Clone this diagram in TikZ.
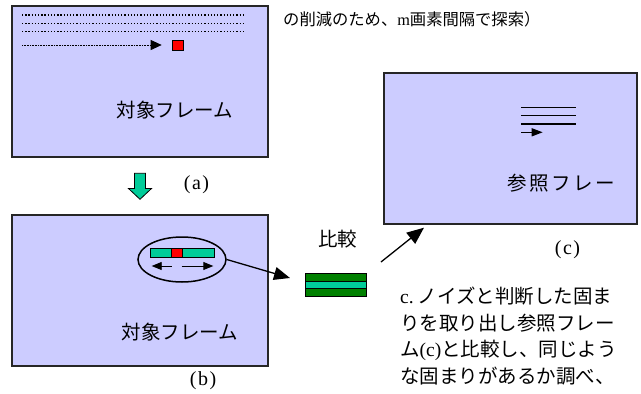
\documentclass[tikz,border=0pt]{standalone}
\usepackage{fontspec}
\setmainfont{Liberation Serif}
\newfontfamily\cjk{Noto Sans CJK JP}
\usetikzlibrary{arrows.meta,shapes.geometric}
\definecolor{lav}{HTML}{CCCCFF}
\definecolor{turq}{HTML}{00CC99}
\definecolor{dgreen}{HTML}{008000}
\definecolor{redsq}{HTML}{FF0000}
\tikzset{
  frame/.style={draw=black!85, line width=1.5pt, fill=lav, inner sep=0pt, outer sep=0pt},
  jp/.style={inner sep=0pt, font=\cjk\fontsize{19.5}{19.5}\selectfont},
  lbl/.style={inner sep=0pt, font=\rmfamily\fontsize{20}{20}\selectfont},
  bigarrow/.style={line width=1.3pt, -{Triangle[length=16pt,width=13pt]}},
  smallarrow/.style={line width=0.9pt, -{Triangle[length=10pt,width=8pt]}},
  cell/.style={draw=black, line width=1pt, inner sep=0pt, outer sep=0pt},
  dotline/.style={line width=1.3pt, dash pattern=on 1.3pt off 1.9pt},
}
\begin{document}
\begin{tikzpicture}[x=1pt,y=-1pt]
\useasboundingbox (0,0) rectangle (641,394);

% frames
\node[frame, minimum width=256pt, minimum height=151pt] (fa) at (140,81.5) {};
\node[frame, minimum width=256pt, minimum height=151pt] (fb) at (140,290.5) {};
\node[frame, line width=1.8pt, minimum width=253pt, minimum height=151pt] (fc) at (510.5,148.5) {};

% top text
\node[anchor=west, inner sep=0pt] (toptext) at (283,19)
  {\fontsize{16.3}{16.3}\selectfont\cjk の削減のため、{\rmfamily m}画素間隔で探索）};

% frame (a) contents
\draw[dotline] (22,15) -- (245,15);
\draw[dotline] (22,23.3) -- (245,23.3);
\draw[dotline] (22,31.7) -- (245,31.7);
\coordinate (sa) at (22,45);
\coordinate (ea) at (161.7,45);
\draw[line width=0.8pt, dash pattern=on 0.8pt off 0.8pt, -{Triangle[length=11pt,width=10pt,sep=0pt]}] (sa) -- (ea);
\node[cell, fill=redsq, minimum width=11pt, minimum height=10pt] (rsa) at (177.5,45) {};
\node[jp] (ta) at (175,110) {対象フレーム};
\node[lbl] (la) at (196.5,185) {(\kern1.5pt a\kern1.5pt)};

% green down arrow
\draw[fill=turq, draw=black, line width=0.8pt] (134.5,173.3) -- (145.5,173.3) -- (145.5,188.5) -- (151.5,188.5)
  -- (140,199.3) -- (128.5,188.5) -- (134.5,188.5) -- cycle;

% frame (b) contents
\node[draw, ellipse, line width=1.5pt, minimum width=88pt, minimum height=45pt, inner sep=0pt] (ell) at (182,259.5) {};
\node[cell, fill=turq, minimum width=64pt, minimum height=8.7pt] (bar) at (182,253.3) {};
\node[cell, fill=redsq, minimum width=11pt, minimum height=8.7pt] (rsb) at (177.2,253.3) {};
\coordinate (l1) at (171.7,266);
\coordinate (l2) at (151.7,266);
\coordinate (r1) at (181.7,266);
\coordinate (r2) at (213.3,266);
\draw[smallarrow] (l1) -- (l2);
\draw[smallarrow] (r1) -- (r2);
\node[jp] (tb) at (180,332) {対象フレーム};
\node[lbl] (lb) at (203,381) {(\kern1.5pt b\kern1.5pt)};

% stack
\node[cell, fill=dgreen, minimum width=61pt, minimum height=7.3pt] (s1) at (336.2,277.6) {};
\node[cell, fill=turq, minimum width=61pt, minimum height=7.4pt] (s2) at (336.2,285) {};
\node[cell, fill=dgreen, minimum width=61pt, minimum height=7.3pt] (s3) at (336.2,292.4) {};
\node[inner sep=0pt, minimum width=61pt, minimum height=22pt] (stk) at (336.2,285) {};
\node[jp] (cmp) at (337.5,239) {比較};

\coordinate (tipA) at (290,278);
\draw[bigarrow] (ell.east) -- (tipA);
\coordinate (sB) at (381,262);
\coordinate (tipB) at (424,227.7);
\draw[line width=1.3pt, -{Triangle[length=17pt,width=14pt]}] (sB) -- (tipB);

% frame (c) contents
\draw[line width=1.3pt] (521,107.3) -- (576,107.3);
\draw[line width=1.3pt] (521,115.7) -- (576,115.7);
\draw[line width=1.3pt] (521,124) -- (576,124);
\coordinate (cs) at (521,132.3);
\coordinate (ce) at (542.7,132.3);
\draw[line width=1.3pt, -{Triangle[length=11pt,width=8pt]}] (cs) -- (ce);
\node[jp] (tc) at (561,183) {参\hspace{2.5pt}照\hspace{2.5pt}フ\hspace{2.5pt}レ\hspace{2.5pt}ー};
\node[lbl] (lc) at (567.5,250) {(\kern1.5pt c\kern1.5pt)};

% paragraph
\node[jp, anchor=base west] (p1) at (400,303.4) {{\rmfamily c.}\hspace{4pt}ノイズと判断した固ま};
\node[jp, anchor=base west] (p2) at (400,330.1) {りを取り出し参照フレー};
\node[jp, anchor=base west] (p3) at (400,356.8) {ム{\rmfamily(c)}と比較し、同じよう};
\node[jp, anchor=base west] (p4) at (400,383.5) {な固まりがあるか調べ、};
\end{tikzpicture}
\end{document}
